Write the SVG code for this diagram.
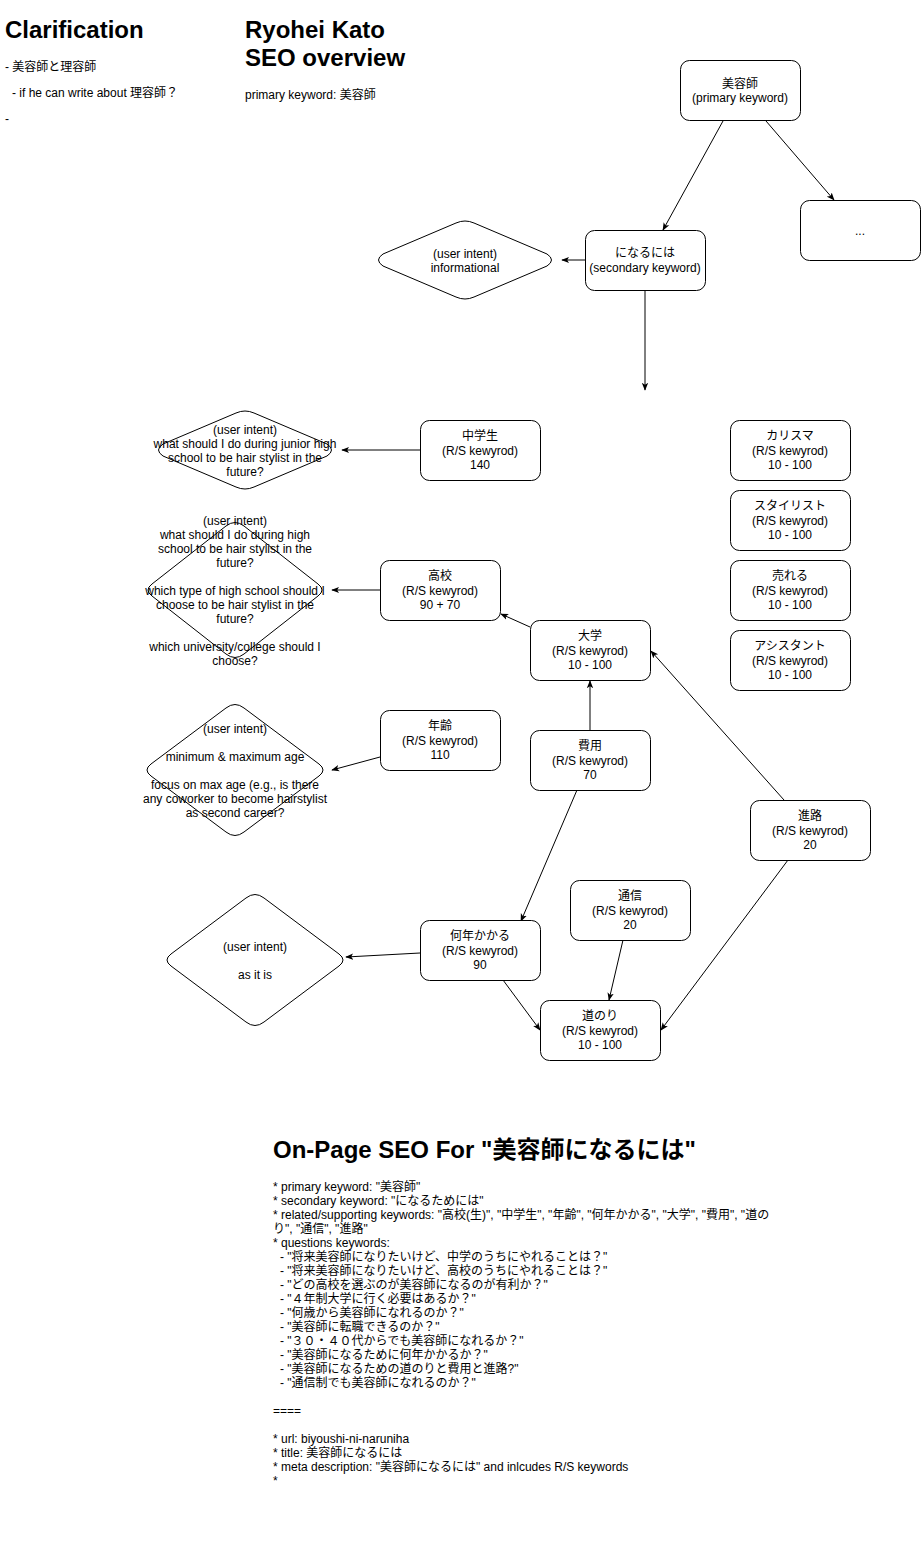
<svg xmlns="http://www.w3.org/2000/svg" width="921" height="1541" viewBox="0 0 921 1541">
<style>
text{font-family:"Liberation Sans","Noto Sans CJK JP",Arial,sans-serif;font-size:12px;fill:#000}
.h{font-size:24px;font-weight:bold}
.c{text-anchor:middle}
.n rect,.n path{fill:#fff;stroke:#000;stroke-width:1}
.e{fill:none;stroke:#000;stroke-width:1;marker-end:url(#a)}
</style>
<defs>
<marker id="a" viewBox="0 0 10 10" refX="9" refY="5" markerWidth="8" markerHeight="8" markerUnits="userSpaceOnUse" orient="auto">
<path d="M0,1 L10,5 L0,9 L2.5,5 Z" fill="#000"/>
</marker>
</defs>
<rect width="921" height="1541" fill="#fff"/>

<g id="clarification">
<text class="h" x="5" y="38">Clarification</text>
<text x="5" y="71">- 美容師と理容師</text>
<text x="12" y="97">- if he can write about 理容師？</text>
<text x="5" y="123">-</text>
</g>

<g id="title">
<text class="h" x="245" y="38">Ryohei Kato</text>
<text class="h" x="245" y="66">SEO overview</text>
<text x="245" y="99">primary keyword: 美容師</text>
</g>

<g id="connectors">
<path class="e" d="M723,121 L663,230"/>
<path class="e" d="M766,121 L834,200"/>
<path class="e" d="M585,260 L562,260"/>
<path class="e" d="M645,290 L645,390"/>
<path class="e" d="M420,450 L342,450"/>
<path class="e" d="M380,590 L332,590"/>
<path class="e" d="M530,627 L501,614"/>
<path class="e" d="M590,730 L590,681"/>
<path class="e" d="M380,757 L332,770"/>
<path class="e" d="M784,800 L651,651"/>
<path class="e" d="M788,860 L661,1030"/>
<path class="e" d="M577,790 L521,921"/>
<path class="e" d="M623,940 L609,1000"/>
<path class="e" d="M420,953 L346,957"/>
<path class="e" d="M503,980 L540,1030"/>
</g>

<g id="n-biyoushi" class="n">
<rect x="680.5" y="60.5" width="120" height="60" rx="9"/>
<text class="c" x="740" y="88">美容師</text>
<text class="c" x="740" y="102">(primary keyword)</text>
</g>
<g id="n-more" class="n">
<rect x="800.5" y="200.5" width="120" height="60" rx="9"/>
<text class="c" x="860" y="235">...</text>
</g>
<g id="n-naruniha" class="n">
<rect x="585.5" y="230.5" width="120" height="60" rx="9"/>
<text class="c" x="645" y="257">になるには</text>
<text class="c" x="645" y="272">(secondary keyword)</text>
</g>
<g id="d-informational" class="n">
<path d="M383,254 L456,223 Q465,219 474,223 L547,254 Q556,260 547,266 L474,297 Q465,301 456,297 L383,266 Q374,260 383,254 Z"/>
<text class="c" x="465" y="258">(user intent)</text>
<text class="c" x="465" y="272">informational</text>
</g>

<g id="n-chugakusei" class="n">
<rect x="420.5" y="420.5" width="120" height="60" rx="9"/>
<text class="c" x="480" y="440">中学生</text>
<text class="c" x="480" y="455">(R/S kewyrod)</text>
<text class="c" x="480" y="469">140</text>
</g>
<g id="d-junior" class="n">
<path d="M163,444 L236,413 Q245,409 254,413 L327,444 Q336,450 327,456 L254,487 Q245,491 236,487 L163,456 Q154,450 163,444 Z"/>
<text class="c" x="245" y="434">(user intent)</text>
<text class="c" x="245" y="448">what should I do during junior high</text>
<text class="c" x="245" y="462">school to be hair stylist in the</text>
<text class="c" x="245" y="476">future?</text>
</g>

<g id="n-charisma" class="n">
<rect x="730.5" y="420.5" width="120" height="60" rx="9"/>
<text class="c" x="790" y="440">カリスマ</text>
<text class="c" x="790" y="455">(R/S kewyrod)</text>
<text class="c" x="790" y="469">10 - 100</text>
</g>
<g id="n-stylist" class="n">
<rect x="730.5" y="490.5" width="120" height="60" rx="9"/>
<text class="c" x="790" y="510">スタイリスト</text>
<text class="c" x="790" y="525">(R/S kewyrod)</text>
<text class="c" x="790" y="539">10 - 100</text>
</g>
<g id="n-ureru" class="n">
<rect x="730.5" y="560.5" width="120" height="60" rx="9"/>
<text class="c" x="790" y="580">売れる</text>
<text class="c" x="790" y="595">(R/S kewyrod)</text>
<text class="c" x="790" y="609">10 - 100</text>
</g>
<g id="n-assistant" class="n">
<rect x="730.5" y="630.5" width="120" height="60" rx="9"/>
<text class="c" x="790" y="650">アシスタント</text>
<text class="c" x="790" y="665">(R/S kewyrod)</text>
<text class="c" x="790" y="679">10 - 100</text>
</g>

<g id="n-koukou" class="n">
<rect x="380.5" y="560.5" width="120" height="60" rx="9"/>
<text class="c" x="440" y="580">高校</text>
<text class="c" x="440" y="595">(R/S kewyrod)</text>
<text class="c" x="440" y="609">90 + 70</text>
</g>
<g id="d-high" class="n">
<path d="M152,584 L226,526 Q235,519 244,526 L318,584 Q326,590 318,596 L244,654 Q235,661 226,654 L152,596 Q144,590 152,584 Z"/>
<text class="c" x="235" y="525">(user intent)</text>
<text class="c" x="235" y="539">what should I do during high</text>
<text class="c" x="235" y="553">school to be hair stylist in the</text>
<text class="c" x="235" y="567">future?</text>
<text class="c" x="235" y="595">which type of high school should I</text>
<text class="c" x="235" y="609">choose to be hair stylist in the</text>
<text class="c" x="235" y="623">future?</text>
<text class="c" x="235" y="651">which university/college should I</text>
<text class="c" x="235" y="665">choose?</text>
</g>

<g id="n-daigaku" class="n">
<rect x="530.5" y="620.5" width="120" height="60" rx="9"/>
<text class="c" x="590" y="640">大学</text>
<text class="c" x="590" y="655">(R/S kewyrod)</text>
<text class="c" x="590" y="669">10 - 100</text>
</g>
<g id="n-nenrei" class="n">
<rect x="380.5" y="710.5" width="120" height="60" rx="9"/>
<text class="c" x="440" y="730">年齢</text>
<text class="c" x="440" y="745">(R/S kewyrod)</text>
<text class="c" x="440" y="759">110</text>
</g>
<g id="d-age" class="n">
<path d="M151,764 L226,708 Q235,701 244,708 L319,764 Q327,770 319,776 L244,832 Q235,839 226,832 L151,776 Q143,770 151,764 Z"/>
<text class="c" x="235" y="733">(user intent)</text>
<text class="c" x="235" y="761">minimum &amp; maximum age</text>
<text class="c" x="235" y="789">focus on max age (e.g., is there</text>
<text class="c" x="235" y="803">any coworker to become hairstylist</text>
<text class="c" x="235" y="817">as second career?</text>
</g>
<g id="n-hiyou" class="n">
<rect x="530.5" y="730.5" width="120" height="60" rx="9"/>
<text class="c" x="590" y="750">費用</text>
<text class="c" x="590" y="765">(R/S kewyrod)</text>
<text class="c" x="590" y="779">70</text>
</g>
<g id="n-shinro" class="n">
<rect x="750.5" y="800.5" width="120" height="60" rx="9"/>
<text class="c" x="810" y="820">進路</text>
<text class="c" x="810" y="835">(R/S kewyrod)</text>
<text class="c" x="810" y="849">20</text>
</g>
<g id="n-tsushin" class="n">
<rect x="570.5" y="880.5" width="120" height="60" rx="9"/>
<text class="c" x="630" y="900">通信</text>
<text class="c" x="630" y="915">(R/S kewyrod)</text>
<text class="c" x="630" y="929">20</text>
</g>
<g id="n-nannen" class="n">
<rect x="420.5" y="920.5" width="120" height="60" rx="9"/>
<text class="c" x="480" y="940">何年かかる</text>
<text class="c" x="480" y="955">(R/S kewyrod)</text>
<text class="c" x="480" y="969">90</text>
</g>
<g id="d-asitis" class="n">
<path d="M171,954 L246,898 Q255,891 264,898 L339,954 Q347,960 339,966 L264,1022 Q255,1029 246,1022 L171,966 Q163,960 171,954 Z"/>
<text class="c" x="255" y="951">(user intent)</text>
<text class="c" x="255" y="979">as it is</text>
</g>
<g id="n-michinori" class="n">
<rect x="540.5" y="1000.5" width="120" height="60" rx="9"/>
<text class="c" x="600" y="1020">道のり</text>
<text class="c" x="600" y="1035">(R/S kewyrod)</text>
<text class="c" x="600" y="1049">10 - 100</text>
</g>

<g id="onpage">
<text class="h" x="273" y="1158">On-Page SEO For "美容師になるには"</text>
<text x="273" y="1191">* primary keyword: "美容師"</text>
<text x="273" y="1205">* secondary keyword: "になるためには"</text>
<text x="273" y="1219">* related/supporting keywords: "高校(生)", "中学生", "年齢", "何年かかる", "大学", "費用", "道の</text>
<text x="273" y="1233">り", "通信", "進路"</text>
<text x="273" y="1247">* questions keywords:</text>
<text x="280" y="1261">- "将来美容師になりたいけど、中学のうちにやれることは？"</text>
<text x="280" y="1275">- "将来美容師になりたいけど、高校のうちにやれることは？"</text>
<text x="280" y="1289">- "どの高校を選ぶのが美容師になるのが有利か？"</text>
<text x="280" y="1303">- "４年制大学に行く必要はあるか？"</text>
<text x="280" y="1317">- "何歳から美容師になれるのか？"</text>
<text x="280" y="1331">- "美容師に転職できるのか？"</text>
<text x="280" y="1345">- "３０・４０代からでも美容師になれるか？"</text>
<text x="280" y="1359">- "美容師になるために何年かかるか？"</text>
<text x="280" y="1373">- "美容師になるための道のりと費用と進路?"</text>
<text x="280" y="1387">- "通信制でも美容師になれるのか？"</text>
<text x="273" y="1415">====</text>
<text x="273" y="1443">* url: biyoushi-ni-naruniha</text>
<text x="273" y="1457">* title: 美容師になるには</text>
<text x="273" y="1471">* meta description: "美容師になるには" and inlcudes R/S keywords</text>
<text x="273" y="1485">*</text>
</g>
</svg>
